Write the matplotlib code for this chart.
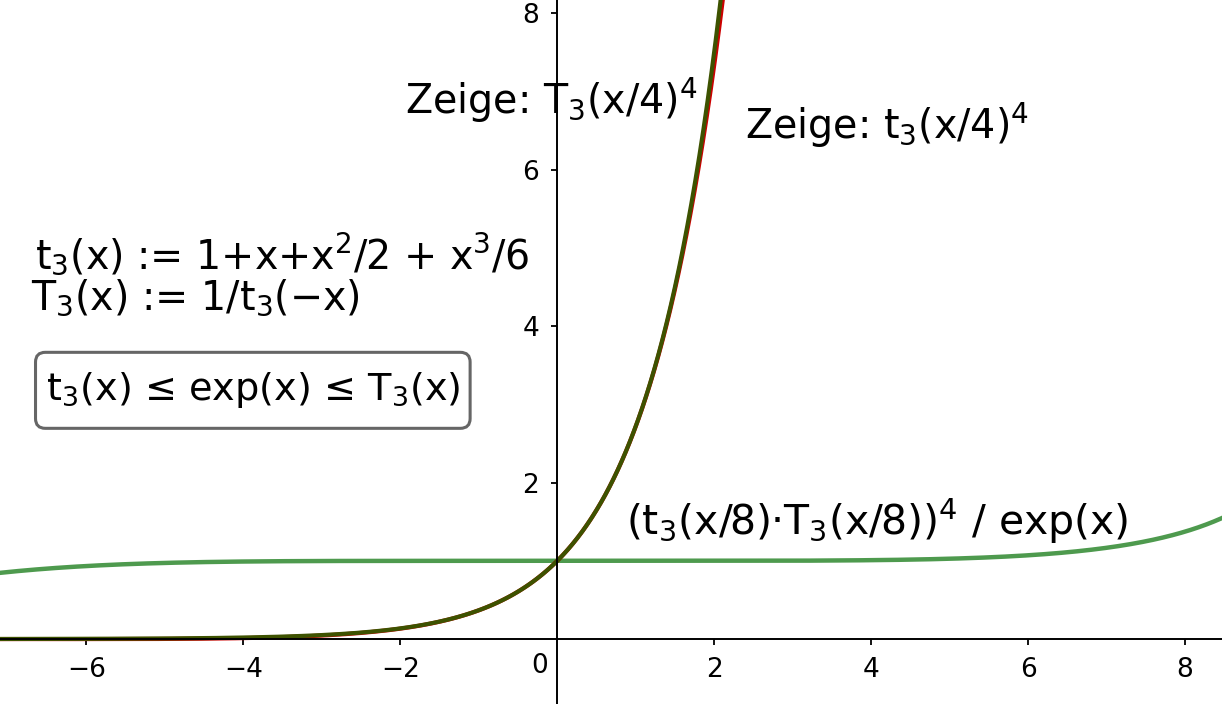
import numpy as np
import matplotlib.pyplot as plt
from matplotlib.patches import FancyBboxPatch

# t3 = Taylor polynomial of exp, T3 = 1/t3(-x)
def t3(x):
    return 1 + x + x**2 / 2 + x**3 / 6

def T3(x):
    return 1 / t3(-x)

x_min, x_max = -7.10, 8.47
y_min, y_max = -0.83, 8.17

x_ticks = [-6, -4, -2, 2, 4, 6, 8]
y_ticks = [2, 4, 6, 8]

labels = {
    'T_show': r'Zeige: T$_3$(x/4)$^4$',
    't_show': r'Zeige: t$_3$(x/4)$^4$',
    't_def': r't$_3$(x) := 1+x+x$^2$/2 + x$^3$/6',
    'T_def': r'T$_3$(x) := 1/t$_3$(−x)',
    'ineq': r't$_3$(x) ≤ exp(x) ≤ T$_3$(x)',
    'ratio': r'(t$_3$(x/8)·T$_3$(x/8))$^4$ / exp(x)',
}

x = np.linspace(x_min, x_max, 1500)
y_t = t3(x / 4) ** 4
y_T = T3(x / 4) ** 4
y_ratio = (t3(x / 8) * T3(x / 8)) ** 4 / np.exp(x)

plt.rcParams['mathtext.fontset'] = 'dejavusans'
fig = plt.figure(figsize=(12.22, 7.04), dpi=100)
ax = fig.add_axes([0, 0, 1, 1])

ax.plot(x, y_ratio, color='#4e9a4e', lw=3.2)
ax.plot(x, y_t, color='#cc0000', lw=3.0)
ax.plot(x, y_T, color='#3d5200', lw=3.0)

ax.set_xlim(x_min, x_max)
ax.set_ylim(y_min, y_max)

for s in ['top', 'right']:
    ax.spines[s].set_visible(False)
ax.spines['left'].set_position('zero')
ax.spines['bottom'].set_position('zero')
ax.spines['left'].set_linewidth(1.4)
ax.spines['bottom'].set_linewidth(1.4)

ax.set_xticks(x_ticks)
ax.set_yticks(y_ticks)
ax.tick_params(labelsize=19, length=4, width=1.3, direction='out', pad=9)
ax.text(-0.12, -0.18, '0', ha='right', va='top', fontsize=19)

fs = 28.5
ax.text(-1.94, 6.89, labels['T_show'], fontsize=fs, va='center', ha='left')
ax.text(2.39, 6.57, labels['t_show'], fontsize=fs, va='center', ha='left')
ax.text(-6.65, 4.92, labels['t_def'], fontsize=fs, va='center', ha='left')
ax.text(-6.71, 4.36, labels['T_def'], fontsize=fs, va='center', ha='left')
ineq = ax.text(-6.52, 3.18, labels['ineq'], fontsize=27.5, va='center', ha='left')
ax.text(0.87, 1.50, labels['ratio'], fontsize=29.5, va='center', ha='left')

# rounded frame around the inequality, wider vertical padding than horizontal
fig.canvas.draw()
bb = ineq.get_window_extent().transformed(fig.transFigure.inverted())
padx, pady = 10 / 1222, 18 / 704
frame = FancyBboxPatch((bb.x0 - padx, bb.y0 - pady), bb.width + 2 * padx,
                       bb.height + 2 * pady, transform=fig.transFigure,
                       boxstyle='round,pad=0,rounding_size=0.008',
                       fc='none', ec='#666666', lw=2.2, mutation_aspect=1222 / 704)
fig.patches.append(frame)

fig.savefig('out.png', dpi=100)
